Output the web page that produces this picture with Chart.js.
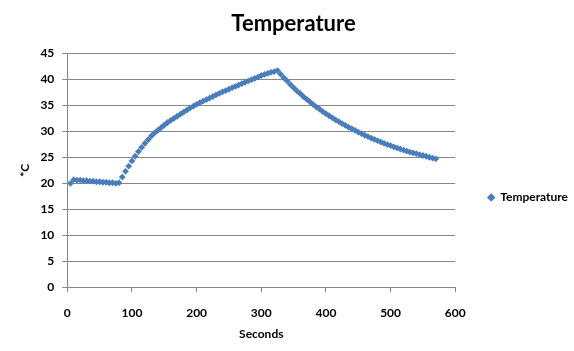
<!DOCTYPE html>
<html>
<head>
<meta charset="utf-8">
<script src="https://cdn.jsdelivr.net/npm/chart.js@4"></script>
<style>
  html, body { margin: 0; padding: 0; background: #fff; }
  #wrap { width: 574px; height: 351px; }
</style>
</head>
<body>
<div id="wrap"><canvas id="chart" width="574" height="351"></canvas></div>
<script>
// readings, one every 5 s
const seconds = [
  5, 10, 15, 20, 25, 30, 35, 40, 45, 50, 55, 60, 65, 70, 75, 80,
  85, 90, 95, 100, 105, 110, 115, 120, 125, 130, 135, 140, 145, 150,
  155, 160, 165, 170, 175, 180, 185, 190, 195, 200, 205, 210, 215, 220, 225,
  230, 235, 240, 245, 250, 255, 260, 265, 270, 275, 280, 285, 290, 295, 300,
  305, 310, 315, 320, 325, 330, 335, 340, 345, 350, 355, 360, 365, 370, 375,
  380, 385, 390, 395, 400, 405, 410, 415, 420, 425, 430, 435, 440, 445, 450,
  455, 460, 465, 470, 475, 480, 485, 490, 495, 500, 505, 510, 515, 520, 525,
  530, 535, 540, 545, 550, 555, 560, 565, 570
];
const temperature = [
  20.0, 20.7, 20.6, 20.6, 20.5, 20.5, 20.4, 20.4, 20.3, 20.3, 20.2, 20.2, 20.1, 20.1, 20.0, 20.1,
  21.2, 22.3, 23.3, 24.3, 25.2, 26.1, 26.9, 27.7, 28.4, 29.1, 29.7, 30.2, 30.7, 31.2,
  31.7, 32.1, 32.5, 32.9, 33.3, 33.7, 34.1, 34.5, 34.85, 35.2, 35.5, 35.8, 36.1, 36.4, 36.7,
  37.0, 37.3, 37.6, 37.85, 38.1, 38.4, 38.65, 38.9, 39.2, 39.45, 39.7, 39.95, 40.2, 40.45, 40.75,
  40.95, 41.15, 41.35, 41.5, 41.7, 41.0, 40.3, 39.7, 39.0, 38.4, 37.8, 37.3, 36.7, 36.2, 35.7,
  35.2, 34.7, 34.3, 33.8, 33.4, 33.0, 32.6, 32.2, 31.85, 31.5, 31.15, 30.8, 30.5, 30.2, 29.85,
  29.55, 29.25, 29.0, 28.7, 28.45, 28.2, 27.95, 27.7, 27.45, 27.25, 27.0, 26.8, 26.6, 26.4, 26.2,
  26.0, 25.85, 25.7, 25.5, 25.35, 25.2, 25.0, 24.85, 24.7
];
const seriesName = "Temperature";
const xTitle = "Seconds";
const yTitle = "*C";

const points = seconds.map((s, i) => ({ x: s, y: temperature[i] }));

const gridGrey = "#868686";
const font = "Lato, 'Open Sans', sans-serif";

// excel puts the legend a bit lower and further right than chart.js does
const legendShift = {
  id: "legendShift",
  afterLayout(c) {
    c.legend.top += 24;
    c.legend.bottom += 24;
    c.legend.left += 9;
    c.legend.right += 9;
  }
};

const ctx = document.getElementById("chart").getContext("2d");
const chart = new Chart(ctx, {
  type: "scatter",
  data: {
    datasets: [
      {
        label: seriesName,
        data: points,
        showLine: false,
        pointStyle: "rectRot",
        pointRadius: 3.4,
        pointBackgroundColor: "#4a7ebb",
        pointBorderColor: "#4a7ebb",
        pointBorderWidth: 0
      }
    ]
  },
  options: {
    responsive: false,
    animation: false,
    layout: { padding: { left: 18, right: 5, top: 6, bottom: 10 } },
    plugins: {
      tooltip: { enabled: false },
      title: {
        display: true,
        text: seriesName,
        color: "#000",
        font: { family: font, size: 22, weight: "bold" },
        padding: { top: 5, bottom: 16 }
      },
      legend: {
        position: "right",
        labels: {
          usePointStyle: true,
          pointStyle: "rectRot",
          boxWidth: 6,
          boxHeight: 6,
          padding: 24,
          color: "#000",
          font: { family: font, size: 12, weight: "bold" }
        }
      }
    },
    scales: {
      x: {
        type: "linear",
        min: 0,
        max: 600,
        ticks: {
          stepSize: 100,
          color: "#000",
          padding: 14,
          font: { family: font, size: 12, weight: "bold" }
        },
        grid: { drawOnChartArea: false, drawTicks: true, tickLength: 5, color: gridGrey },
        border: { color: gridGrey },
        title: {
          display: true,
          text: xTitle,
          color: "#000",
          font: { family: font, size: 12, weight: "bold" },
          padding: { top: -8, bottom: 0 }
        }
      },
      y: {
        min: 0,
        max: 45,
        ticks: {
          stepSize: 5,
          color: "#000",
          padding: 8,
          font: { family: font, size: 12, weight: "bold" }
        },
        grid: { color: gridGrey, tickLength: 5 },
        border: { color: gridGrey },
        title: {
          display: true,
          text: yTitle,
          color: "#000",
          font: { family: font, size: 12, weight: "bold" },
          padding: { top: 0, bottom: 0 }
        }
      }
    }
  },
  plugins: [legendShift]
});
</script>
</body>
</html>
